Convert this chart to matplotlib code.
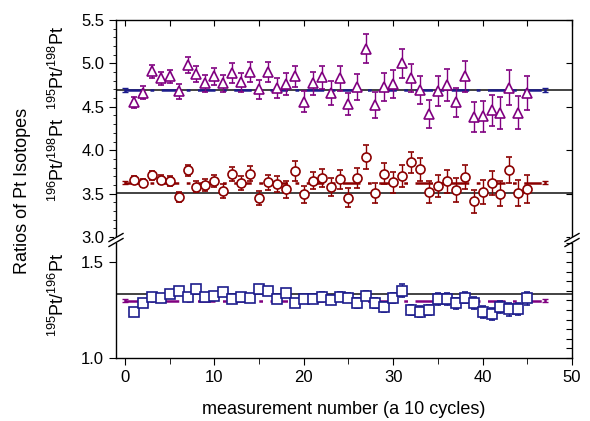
#!/usr/bin/env python3
"""Pt isotope ratios per measurement, broken y axis (two stacked axes)."""
import matplotlib
matplotlib.use('Agg')
import matplotlib.pyplot as plt
from matplotlib.lines import Line2D
from matplotlib.patches import Rectangle
from matplotlib.ticker import MultipleLocator, NullLocator

plt.rcParams['font.family'] = ['Liberation Sans', 'DejaVu Sans']
plt.rcParams['mathtext.default'] = 'regular'

# measurement numbers
meas = list(range(1, 46))

# 195Pt/198Pt (triangles)
r195_198 = [4.55, 4.66, 4.91, 4.83, 4.85, 4.68, 4.98, 4.88, 4.77, 4.85,
            4.77, 4.89, 4.78, 4.90, 4.70, 4.90, 4.72, 4.76, 4.85, 4.56,
            4.77, 4.84, 4.66, 4.83, 4.53, 4.73, 5.17, 4.52, 4.73, 4.76,
            5.00, 4.83, 4.69, 4.42, 4.68, 4.75, 4.55, 4.85, 4.38, 4.39,
            4.46, 4.43, 4.72, 4.43, 4.66]
e195_198 = [0.065, 0.075, 0.077, 0.075, 0.077, 0.085, 0.09, 0.095, 0.10, 0.095,
            0.10, 0.115, 0.11, 0.115, 0.11, 0.12, 0.115, 0.125, 0.125, 0.125,
            0.13, 0.135, 0.135, 0.145, 0.13, 0.15, 0.17, 0.15, 0.16, 0.16,
            0.17, 0.16, 0.16, 0.16, 0.17, 0.18, 0.17, 0.18, 0.17, 0.175,
            0.18, 0.18, 0.20, 0.19, 0.20]

# 196Pt/198Pt (circles)
r196_198 = [3.66, 3.62, 3.71, 3.66, 3.645, 3.46, 3.77, 3.58, 3.60, 3.65,
            3.53, 3.73, 3.62, 3.73, 3.45, 3.63, 3.61, 3.55, 3.76, 3.49,
            3.65, 3.68, 3.58, 3.665, 3.45, 3.68, 3.92, 3.51, 3.73, 3.63,
            3.70, 3.86, 3.78, 3.52, 3.59, 3.64, 3.54, 3.69, 3.41, 3.52,
            3.62, 3.50, 3.77, 3.51, 3.55]
e196_198 = [0.04, 0.045, 0.05, 0.05, 0.055, 0.06, 0.065, 0.065, 0.07, 0.07,
            0.075, 0.08, 0.08, 0.085, 0.085, 0.09, 0.09, 0.095, 0.11, 0.10,
            0.10, 0.105, 0.105, 0.11, 0.11, 0.115, 0.135, 0.115, 0.12, 0.12,
            0.125, 0.125, 0.13, 0.13, 0.13, 0.135, 0.135, 0.14, 0.13, 0.14,
            0.14, 0.145, 0.15, 0.15, 0.16]

# 195Pt/196Pt (squares)
r195_196 = [1.241, 1.285, 1.319, 1.314, 1.332, 1.351, 1.319, 1.359, 1.319, 1.325,
            1.345, 1.307, 1.319, 1.314, 1.359, 1.349, 1.307, 1.337, 1.285, 1.307,
            1.307, 1.319, 1.302, 1.319, 1.314, 1.285, 1.325, 1.285, 1.264, 1.314,
            1.351, 1.250, 1.241, 1.250, 1.307, 1.307, 1.285, 1.314, 1.285, 1.241,
            1.228, 1.264, 1.254, 1.255, 1.311]
e195_196 = [0.012, 0.013, 0.013, 0.014, 0.014, 0.015, 0.015, 0.016, 0.016, 0.017,
            0.017, 0.018, 0.018, 0.019, 0.019, 0.020, 0.020, 0.021, 0.021, 0.022,
            0.022, 0.023, 0.023, 0.024, 0.024, 0.025, 0.025, 0.026, 0.026, 0.027,
            0.033, 0.027, 0.028, 0.028, 0.029, 0.029, 0.030, 0.030, 0.031, 0.031,
            0.032, 0.032, 0.033, 0.033, 0.035]

# mean values (dash-dot, end points with error bars) and natural ratios (solid)
mean_x = [0, 47]
mean_195_198 = [4.695, 4.695]
mean_196_198 = [3.625, 3.625]
mean_195_196 = [1.298, 1.298]
mean_err = [0.025, 0.015, 0.008]
nat_195_198 = 4.69
nat_196_198 = 3.505
nat_195_196 = 1.332

PURPLE = '#800080'
DRED = '#8b0000'
NAVY = '#1c1c8c'
DASHDOT = (0, (7, 3, 1.5, 3))

W, H = 590, 421
fig = plt.figure(figsize=(W / 100, H / 100), dpi=100)

left, right, top, split, bottom = 116, 572, 20, 240, 358
ax_hi = fig.add_axes([left / W, 1 - split / H, (right - left) / W, (split - top) / H])
ax_lo = fig.add_axes([left / W, 1 - bottom / H, (right - left) / W, (bottom - split) / H])

ebkw = dict(linestyle='none', capsize=2.5, elinewidth=1.0, capthick=1.0,
            markerfacecolor='white', markeredgewidth=1.2)

# upper panel
ax_hi.axhline(nat_195_198, color='#222222', lw=1.2, zorder=1)
ax_hi.axhline(nat_196_198, color='#222222', lw=1.2, zorder=1)
ax_hi.errorbar(mean_x, mean_195_198, yerr=mean_err[0], color=NAVY, ls=DASHDOT,
               lw=1.8, capsize=2.5, zorder=2)
ax_hi.errorbar(mean_x, mean_196_198, yerr=mean_err[1], color=DRED, ls=DASHDOT,
               lw=1.8, capsize=2.5, zorder=2)
ax_hi.errorbar(meas, r195_198, yerr=e195_198, marker='^', markersize=7.5,
               color=PURPLE, zorder=3, **ebkw)
ax_hi.errorbar(meas, r196_198, yerr=e196_198, marker='o', markersize=6.5,
               color=DRED, zorder=3, **ebkw)

# lower panel
ax_lo.axhline(nat_195_196, color='#222222', lw=1.2, zorder=1)
ax_lo.errorbar(mean_x, mean_195_196, yerr=mean_err[2], color=PURPLE, ls=DASHDOT,
               lw=1.8, capsize=2.5, zorder=2)
ax_lo.errorbar(meas, r195_196, yerr=e195_196, marker='s', markersize=6.5,
               color=NAVY, zorder=3, **ebkw)

ax_hi.set_xlim(-1, 50)
ax_lo.set_xlim(-1, 50)
ax_hi.set_ylim(5.5 - (split - top) / 86.8, 5.5)
ax_lo.set_ylim(1.0, 1.0 + (bottom - split) / 192.0)

for ax in (ax_hi, ax_lo):
    for s in ax.spines.values():
        s.set_linewidth(1.0)
ax_hi.spines['bottom'].set_visible(False)
ax_lo.spines['top'].set_visible(False)

# ticks: upper panel
ax_hi.yaxis.set_major_locator(MultipleLocator(0.5))
ax_hi.yaxis.set_minor_locator(MultipleLocator(0.1))
ax_hi.yaxis.set_major_formatter(plt.FormatStrFormatter('%.1f'))
ax_hi.tick_params(axis='y', which='major', direction='out', length=5, labelsize=12)
ax_hi.tick_params(axis='y', which='minor', direction='out', length=2.5)
ax_hi.xaxis.set_major_locator(MultipleLocator(5))
ax_hi.tick_params(axis='x', which='major', direction='in', length=4,
                  top=True, bottom=False, labelbottom=False)
sec = ax_hi.secondary_yaxis('right')
sec.yaxis.set_major_locator(MultipleLocator(0.5))
sec.yaxis.set_minor_locator(NullLocator())
sec.tick_params(direction='in', length=4, labelright=False)
sec.spines['right'].set_visible(False)

# ticks: lower panel
ax_lo.yaxis.set_major_locator(MultipleLocator(0.5))
ax_lo.yaxis.set_major_formatter(plt.FormatStrFormatter('%.1f'))
ax_lo.tick_params(axis='y', direction='out', length=5, labelsize=12)
ax_lo.xaxis.set_major_locator(MultipleLocator(10))
ax_lo.xaxis.set_minor_locator(MultipleLocator(5))
ax_lo.tick_params(axis='x', which='major', direction='out', length=5, labelsize=12)
ax_lo.tick_params(axis='x', which='minor', direction='out', length=4)
sec2 = ax_lo.secondary_yaxis('right')
sec2.yaxis.set_major_locator(MultipleLocator(0.05))
sec2.yaxis.set_minor_locator(NullLocator())
sec2.tick_params(direction='in', length=4, labelright=False)
sec2.spines['right'].set_visible(False)


def px(x, y):
    return x / W, 1 - y / H


# axis break marks on both spines
for xs in (left, right):
    fig.add_artist(Rectangle(px(xs - 2, split + 3), 4 / W, 6 / H, transform=fig.transFigure,
                             facecolor='white', edgecolor='none', zorder=5))
    for dy in (-2.5, 2.5):
        (x0, y0), (x1, y1) = px(xs - 7, split + dy + 4), px(xs + 7, split + dy - 4)
        fig.add_artist(Line2D([x0, x1], [y0, y1], transform=fig.transFigure,
                              color='black', lw=1.0, zorder=6))

ax_lo.set_xlabel('measurement number (a 10 cycles)', fontsize=13, labelpad=12)
fig.text(23 / W, 1 - 191 / H, 'Ratios of Pt Isotopes', rotation=90,
         ha='center', va='center', fontsize=13)
fig.text(58 / W, 1 - 68 / H, r'$^{195}$Pt/$^{198}$Pt', rotation=90,
         ha='center', va='center', fontsize=13)
fig.text(58 / W, 1 - 160 / H, r'$^{196}$Pt/$^{198}$Pt', rotation=90,
         ha='center', va='center', fontsize=13)
fig.text(58 / W, 1 - 295 / H, r'$^{195}$Pt/$^{196}$Pt', rotation=90,
         ha='center', va='center', fontsize=13)

fig.savefig('out.png', dpi=100)
